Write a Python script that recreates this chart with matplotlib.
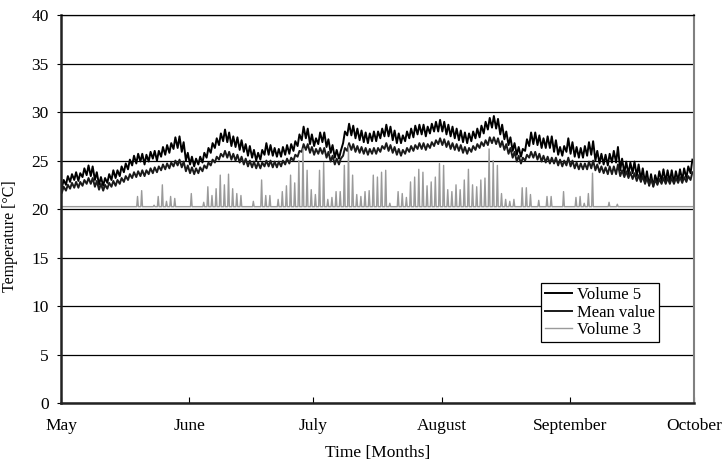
import numpy as np
import matplotlib.pyplot as plt

plt.rcParams['font.family'] = ['Liberation Serif', 'DejaVu Serif']

month_labels = ["May", "June", "July", "August", "September", "October"]
month_starts = [0, 31, 61, 92, 123, 153]

# daily highs / lows, May 1 .. Oct 1 (one row per week)
vol5_high = [
    23.0, 23.4, 23.6, 23.8, 23.7, 24.2, 24.5,
    24.4, 23.8, 23.3, 23.2, 23.6, 24.0, 24.0,
    24.4, 24.7, 25.1, 25.5, 25.7, 25.7, 25.6,
    25.9, 26.0, 26.0, 26.4, 26.6, 26.8, 27.4,
    27.5, 26.9, 25.8, 25.4, 25.2, 25.4, 25.8,
    26.3, 26.8, 27.3, 27.8, 28.2, 27.9, 27.5,
    27.4, 27.1, 26.7, 26.5, 26.1, 25.8, 26.1,
    26.8, 26.6, 26.3, 26.2, 26.4, 26.6, 26.7,
    27.0, 27.7, 28.5, 28.3, 27.7, 27.3, 27.9,
    27.9, 27.2, 26.6, 26.1, 26.0, 28.0, 28.8,
    28.6, 28.3, 28.1, 27.9, 27.8, 28.0, 28.0,
    28.3, 28.7, 28.5, 28.1, 27.8, 27.6, 28.0,
    28.3, 28.6, 28.7, 28.7, 28.5, 28.8, 29.0,
    29.2, 29.0, 28.7, 28.5, 28.3, 28.1, 27.9,
    27.8, 28.0, 28.3, 28.6, 29.0, 29.4, 29.6,
    29.3, 28.7, 28.0, 27.4, 26.8, 26.4, 26.2,
    27.2, 27.9, 27.9, 27.6, 27.3, 27.5, 27.5,
    27.1, 26.4, 26.5, 27.3, 26.9, 26.4, 26.3,
    26.5, 26.9, 27.0, 26.0, 25.7, 25.6, 25.7,
    26.0, 26.4, 25.2, 24.9, 24.8, 24.9, 24.6,
    24.2, 23.9, 23.6, 23.5, 23.9, 24.1, 24.0,
    24.0, 23.9, 24.1, 24.2, 24.4, 25.1,
]
vol5_low = [
    22.2, 22.5, 22.8, 23.0, 22.9, 23.3, 23.5,
    23.4, 23.0, 22.5, 22.4, 22.7, 23.0, 23.2,
    23.4, 23.8, 24.1, 24.5, 24.7, 24.9, 24.6,
    24.9, 25.2, 25.0, 25.4, 25.6, 25.8, 26.2,
    26.3, 25.9, 25.0, 24.6, 24.4, 24.6, 24.8,
    25.3, 25.8, 26.3, 26.6, 27.0, 26.9, 26.5,
    26.4, 26.1, 25.9, 25.5, 25.3, 25.0, 25.1,
    25.6, 25.6, 25.5, 25.4, 25.4, 25.6, 25.7,
    26.0, 26.5, 27.1, 27.3, 26.7, 26.5, 26.7,
    26.9, 26.4, 25.8, 25.3, 25.2, 26.8, 27.6,
    27.6, 27.3, 27.1, 26.9, 26.8, 27.0, 27.0,
    27.3, 27.5, 27.5, 27.1, 26.8, 26.8, 27.0,
    27.3, 27.4, 27.7, 27.7, 27.5, 27.8, 28.0,
    28.0, 28.0, 27.7, 27.5, 27.3, 27.1, 26.9,
    26.8, 27.0, 27.3, 27.4, 27.8, 28.2, 28.4,
    28.3, 27.7, 27.2, 26.6, 26.0, 25.6, 25.4,
    26.0, 26.5, 26.7, 26.6, 26.3, 26.3, 26.3,
    25.9, 25.6, 25.5, 25.9, 25.7, 25.4, 25.3,
    25.3, 25.5, 25.6, 25.0, 24.7, 24.6, 24.5,
    24.8, 24.8, 24.0, 23.7, 23.6, 23.7, 23.4,
    23.0, 22.7, 22.4, 22.3, 22.7, 22.9, 22.8,
    22.8, 22.7, 22.9, 23.0, 23.2, 23.7,
]
mean_high = [
    22.3, 22.5, 22.7, 22.8, 22.8, 23.0, 23.2,
    23.2, 22.9, 22.6, 22.5, 22.7, 22.9, 23.0,
    23.2, 23.4, 23.6, 23.8, 23.9, 24.0, 24.0,
    24.2, 24.3, 24.4, 24.6, 24.7, 24.8, 25.0,
    25.1, 24.9, 24.5, 24.3, 24.2, 24.3, 24.5,
    24.8, 25.1, 25.4, 25.7, 26.0, 25.9, 25.7,
    25.6, 25.4, 25.2, 25.0, 24.9, 24.8, 24.8,
    25.0, 25.0, 24.9, 24.9, 25.0, 25.2, 25.3,
    25.6, 26.0, 26.7, 26.7, 26.4, 26.2, 26.3,
    26.3, 25.9, 25.5, 25.2, 25.2, 26.3, 26.8,
    26.7, 26.5, 26.4, 26.3, 26.2, 26.3, 26.3,
    26.5, 26.8, 26.6, 26.4, 26.2, 26.1, 26.3,
    26.5, 26.6, 26.8, 26.8, 26.7, 26.9, 27.1,
    27.3, 27.2, 27.0, 26.8, 26.7, 26.6, 26.4,
    26.3, 26.5, 26.7, 26.9, 27.1, 27.4, 27.4,
    27.3, 27.0, 26.7, 26.3, 25.9, 25.5, 25.3,
    25.6, 25.9, 25.9, 25.7, 25.5, 25.4, 25.3,
    25.3, 25.1, 25.0, 25.3, 25.0, 24.8, 24.7,
    24.7, 24.9, 25.0, 24.6, 24.4, 24.3, 24.4,
    24.4, 24.6, 24.0, 23.9, 23.8, 23.7, 23.5,
    23.4, 23.2, 23.1, 23.0, 23.1, 23.2, 23.2,
    23.2, 23.2, 23.3, 23.3, 23.4, 23.8,
]
mean_low = [
    21.7, 21.9, 22.1, 22.2, 22.2, 22.4, 22.6,
    22.6, 22.3, 22.0, 21.9, 22.1, 22.3, 22.4,
    22.6, 22.8, 23.0, 23.2, 23.3, 23.4, 23.4,
    23.6, 23.7, 23.8, 24.0, 24.1, 24.2, 24.4,
    24.5, 24.3, 23.9, 23.7, 23.6, 23.7, 23.9,
    24.2, 24.5, 24.8, 25.1, 25.4, 25.3, 25.1,
    25.0, 24.8, 24.6, 24.4, 24.3, 24.2, 24.2,
    24.4, 24.4, 24.3, 24.3, 24.4, 24.6, 24.7,
    25.0, 25.4, 25.9, 26.1, 25.8, 25.6, 25.7,
    25.7, 25.3, 24.9, 24.6, 24.6, 25.5, 26.0,
    26.1, 25.9, 25.8, 25.7, 25.6, 25.7, 25.7,
    25.9, 26.2, 26.0, 25.8, 25.6, 25.5, 25.7,
    25.9, 26.0, 26.2, 26.2, 26.1, 26.3, 26.5,
    26.7, 26.6, 26.4, 26.2, 26.1, 26.0, 25.8,
    25.7, 25.9, 26.1, 26.3, 26.5, 26.6, 26.8,
    26.7, 26.4, 26.1, 25.7, 25.3, 24.9, 24.7,
    25.0, 25.3, 25.3, 25.1, 24.9, 24.8, 24.7,
    24.7, 24.5, 24.4, 24.5, 24.4, 24.2, 24.1,
    24.1, 24.1, 24.2, 24.0, 23.8, 23.7, 23.6,
    23.6, 23.6, 23.4, 23.3, 23.2, 23.1, 22.9,
    22.8, 22.6, 22.5, 22.4, 22.5, 22.6, 22.6,
    22.6, 22.6, 22.7, 22.7, 22.8, 23.0,
]
# Volume 3: daily peak of the heating spikes (None = stays at base level)
vol3_base = 20.25
vol3_peak = [
    None, None, None, None, None, None, None,
    None, None, None, None, None, None, None,
    None, None, None, None, 21.3, 21.9, None,
    None, 20.4, 21.3, 22.5, 20.8, 21.3, 21.1,
    None, None, None, 21.6, None, None, 20.7,
    22.3, 21.4, 22.1, 23.5, 22.5, 23.6, 22.1,
    21.6, 21.4, None, None, 20.8, None, 23.0,
    21.4, 21.4, None, 21.0, 21.8, 22.4, 23.5,
    22.7, 25.0, 26.2, 24.0, 22.0, 21.5, 24.0,
    24.8, 21.0, 21.2, 21.8, 21.8, 24.5, 26.5,
    23.5, 21.5, 21.3, 21.8, 21.9, 23.5, 23.3,
    23.8, 24.0, 20.6, None, 21.8, 21.6, 21.2,
    22.8, 23.3, 24.1, 23.8, 22.4, 22.8, 23.3,
    24.7, 24.5, 22.0, 21.8, 22.5, 22.0, 23.0,
    24.1, 22.5, 22.3, 23.0, 23.2, 26.2, 25.0,
    24.5, 21.6, 21.0, 20.8, 21.0, None, 22.2,
    22.2, 21.5, None, 20.9, None, 21.3, 21.3,
    None, None, 21.8, None, None, 21.2, 21.3,
    20.6, 21.6, 23.7, None, None, None, 20.7,
    None, 20.5, None, None, None, None, None,
    None, None, None, None, None, None, None,
    None, None, None, None, None, None,
]

days = np.arange(len(vol5_high))

# daily cycle: minimum in the early morning, maximum in the afternoon
t_cycle = np.column_stack([days + 0.2, days + 0.65]).ravel()
vol5 = np.column_stack([vol5_low, vol5_high]).ravel()
mean = np.column_stack([mean_low, mean_high]).ravel()

t3, v3 = [], []
for d, p in zip(days, vol3_peak):
    top = vol3_base if p is None else p
    t3 += [d + 0.3, d + 0.5, d + 0.7]
    v3 += [vol3_base, top, vol3_base]

fig = plt.figure(figsize=(7.22, 4.73), dpi=100)
ax = fig.add_axes([0.0845, 0.148, 0.8765, 0.82])

ax.plot(t_cycle, vol5, color='black', lw=1.4, label='Volume 5')
ax.plot(t_cycle, mean, color='#1a1a1a', lw=1.4, label='Mean value')
ax.plot(t3, v3, color='#9a9a9a', lw=1.0, label='Volume 3')

ax.set_xlim(0, 153)
ax.set_ylim(0, 40)
ax.set_yticks(range(0, 41, 5))
ax.set_xticks(month_starts)
ax.set_xticklabels(month_labels)
ax.yaxis.grid(True, color='black', lw=0.9)
ax.set_axisbelow(True)

for s in ['left', 'bottom']:
    ax.spines[s].set_linewidth(1.8)
    ax.spines[s].set_color('#222222')
ax.spines['right'].set_color('#808080')
ax.spines['right'].set_linewidth(1.5)
ax.spines['top'].set_linewidth(0.9)

ax.tick_params(axis='y', direction='out', length=3, labelsize=12.5, pad=6)
ax.tick_params(axis='x', direction='in', length=4, labelsize=12.5, pad=11)

ax.set_xlabel('Time [Months]', fontsize=12.5, labelpad=8)
ax.set_ylabel('Temperature [°C]', fontsize=11.5)
ax.yaxis.set_label_coords(-0.068, 0.43)

leg = ax.legend(loc='upper right', bbox_to_anchor=(0.945, 0.31), fontsize=12,
                fancybox=False, framealpha=1, edgecolor='black',
                handlelength=1.6, handletextpad=0.3, borderpad=0.25,
                labelspacing=0.1, borderaxespad=0)
leg.get_frame().set_linewidth(0.9)

plt.savefig('out.png', dpi=100)
